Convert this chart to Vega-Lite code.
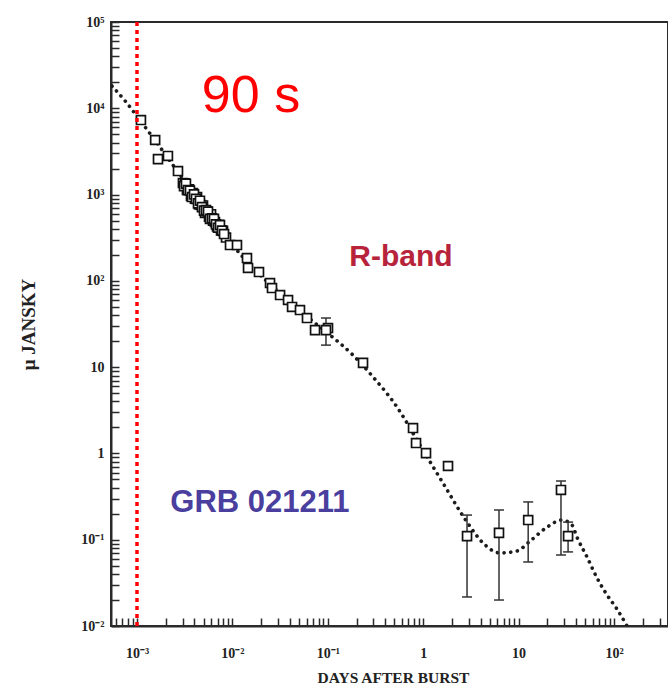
{
  "$schema": "https://vega.github.io/schema/vega-lite/v6.json",
  "width": 557,
  "height": 604,
  "autosize": {"type": "none"},
  "padding": {"left": 111, "top": 22, "right": 0, "bottom": 60},
  "background": "white",
  "config": {"view": {"stroke": "#2a2a2a", "strokeWidth": 2}, "axis": {"grid": false}},
  "datasets": {
    "model": [
      {"t": 0.000547, "f": 18110}, {"t": 0.000767, "f": 11820}, {"t": 0.00107, "f": 7310},
      {"t": 0.00174, "f": 3556}, {"t": 0.00283, "f": 1686}, {"t": 0.00516, "f": 680},
      {"t": 0.00944, "f": 282}, {"t": 0.01726, "f": 133.6}, {"t": 0.0316, "f": 72.3},
      {"t": 0.0577, "f": 40.2}, {"t": 0.1054, "f": 23.6}, {"t": 0.1836, "f": 13.8},
      {"t": 0.298, "f": 7.69}, {"t": 0.531, "f": 3.45}, {"t": 0.925, "f": 1.25},
      {"t": 1.61, "f": 0.454}, {"t": 2.88, "f": 0.16}, {"t": 4.24, "f": 0.0916},
      {"t": 6.38, "f": 0.0702}, {"t": 9.62, "f": 0.074}, {"t": 13.2, "f": 0.0966},
      {"t": 19.9, "f": 0.14}, {"t": 28.5, "f": 0.169}, {"t": 36.3, "f": 0.148},
      {"t": 40.9, "f": 0.107}, {"t": 52.1, "f": 0.0631}, {"t": 66.4, "f": 0.036},
      {"t": 84.5, "f": 0.0229}, {"t": 107.5, "f": 0.0157}, {"t": 136.8, "f": 0.01}
    ],
    "obs": [
      {"t": 0.0011, "f": 7310}, {"t": 0.00155, "f": 4290}, {"t": 0.00166, "f": 2580},
      {"t": 0.00211, "f": 2800}, {"t": 0.00269, "f": 1875},
      {"t": 0.00303, "f": 1361}, {"t": 0.00318, "f": 1346}, {"t": 0.00334, "f": 1132},
      {"t": 0.00351, "f": 1151}, {"t": 0.00368, "f": 967}, {"t": 0.00386, "f": 1038},
      {"t": 0.00405, "f": 898}, {"t": 0.00426, "f": 934}, {"t": 0.00447, "f": 767},
      {"t": 0.00469, "f": 757}, {"t": 0.00492, "f": 748}, {"t": 0.00516, "f": 614},
      {"t": 0.00542, "f": 640}, {"t": 0.00569, "f": 553}, {"t": 0.00597, "f": 592},
      {"t": 0.00626, "f": 499}, {"t": 0.00657, "f": 481}, {"t": 0.0069, "f": 427},
      {"t": 0.00724, "f": 445}, {"t": 0.0076, "f": 385}, {"t": 0.00797, "f": 380},
      {"t": 0.00857, "f": 318},
      {"t": 0.00311, "f": 1250}, {"t": 0.00326, "f": 1336}, {"t": 0.00342, "f": 1126},
      {"t": 0.00359, "f": 1114}, {"t": 0.00377, "f": 937}, {"t": 0.00396, "f": 1004},
      {"t": 0.00415, "f": 890}, {"t": 0.00436, "f": 792}, {"t": 0.00457, "f": 849},
      {"t": 0.0048, "f": 714}, {"t": 0.00504, "f": 652}, {"t": 0.00529, "f": 660},
      {"t": 0.00555, "f": 636}, {"t": 0.00582, "f": 522}, {"t": 0.00611, "f": 529},
      {"t": 0.00641, "f": 524}, {"t": 0.00673, "f": 452}, {"t": 0.00707, "f": 413},
      {"t": 0.00741, "f": 443}, {"t": 0.00778, "f": 382}, {"t": 0.00817, "f": 349},
      {"t": 0.00944, "f": 260}, {"t": 0.01117, "f": 260}, {"t": 0.01422, "f": 184},
      {"t": 0.01458, "f": 141}, {"t": 0.019, "f": 126.6}, {"t": 0.0248, "f": 94.4},
      {"t": 0.026, "f": 82.6}, {"t": 0.0316, "f": 68.5}, {"t": 0.0383, "f": 60},
      {"t": 0.0422, "f": 49.8}, {"t": 0.0511, "f": 45.9}, {"t": 0.0605, "f": 37.1},
      {"t": 0.0735, "f": 26.9}, {"t": 0.1005, "f": 28.4},
      {"t": 0.0957, "f": 26.9, "lo": 18, "hi": 37.1},
      {"t": 0.234, "f": 11.2}, {"t": 0.782, "f": 1.97}, {"t": 0.841, "f": 1.32},
      {"t": 1.07, "f": 1.01}, {"t": 1.82, "f": 0.715},
      {"t": 2.88, "f": 0.11, "lo": 0.0217, "hi": 0.193},
      {"t": 6.23, "f": 0.12, "lo": 0.02, "hi": 0.221},
      {"t": 12.6, "f": 0.169, "lo": 0.0552, "hi": 0.274},
      {"t": 27.8, "f": 0.377, "lo": 0.0665, "hi": 0.479},
      {"t": 33.0, "f": 0.11, "lo": 0.0722, "hi": 0.16}
    ]
  },
  "layer": [
    {
      "data": {"name": "model"},
      "mark": {"type": "line", "interpolate": "monotone", "color": "#1c1c1c", "strokeWidth": 3.6, "strokeDash": [0.1, 6.6], "strokeCap": "round", "clip": true},
      "encoding": {
        "x": {
          "field": "t", "type": "quantitative",
          "scale": {"type": "log", "domain": [0.000534, 368], "nice": false},
          "axis": {
            "orient": "bottom",
            "values": [0.0006, 0.0007, 0.0008, 0.0009, 0.001, 0.002, 0.003, 0.004, 0.005, 0.006, 0.007, 0.008, 0.009,
                       0.01, 0.02, 0.03, 0.04, 0.05, 0.06, 0.07, 0.08, 0.09, 0.1, 0.2, 0.3, 0.4, 0.5, 0.6, 0.7, 0.8, 0.9,
                       1, 2, 3, 4, 5, 6, 7, 8, 9, 10, 20, 30, 40, 50, 60, 70, 80, 90, 100, 200, 300],
            "ticks": true, "tickSize": -8, "tickWidth": 1.5, "tickColor": "#2a2a2a",
            "domain": true, "domainColor": "#2a2a2a", "domainWidth": 2,
            "labelExpr": "abs(log(datum.value)/LN10 - round(log(datum.value)/LN10)) < 0.001 ? ['10⁻³','10⁻²','10⁻¹','1','10','10²'][round(log(datum.value)/LN10)+3] : ''",
            "labelFont": "Liberation Serif", "labelFontWeight": "bold", "labelFontSize": 14, "labelColor": "#222",
            "labelBaseline": "alphabetic", "labelPadding": 39, "labelFlush": false, "labelOverlap": false,
            "title": "DAYS AFTER BURST", "titleFont": "Liberation Serif", "titleFontWeight": "bold",
            "titleFontSize": 15.5, "titleColor": "#222", "titleX": 282, "titleY": 51,
            "titleBaseline": "middle", "titleAlign": "center"
          }
        },
        "y": {
          "field": "f", "type": "quantitative",
          "scale": {"type": "log", "domain": [0.01, 100000], "nice": false},
          "axis": {
            "orient": "left",
            "values": [0.01, 0.02, 0.03, 0.04, 0.05, 0.06, 0.07, 0.08, 0.09, 0.1, 0.2, 0.3, 0.4, 0.5, 0.6, 0.7, 0.8, 0.9,
                       1, 2, 3, 4, 5, 6, 7, 8, 9, 10, 20, 30, 40, 50, 60, 70, 80, 90, 100, 200, 300, 400, 500, 600, 700, 800, 900,
                       1000, 2000, 3000, 4000, 5000, 6000, 7000, 8000, 9000, 10000, 20000, 30000, 40000, 50000, 60000, 70000, 80000, 90000, 100000],
            "ticks": true, "tickSize": -8, "tickWidth": 1.5, "tickColor": "#2a2a2a",
            "domain": true, "domainColor": "#2a2a2a", "domainWidth": 2,
            "labelExpr": "abs(log(datum.value)/LN10 - round(log(datum.value)/LN10)) < 0.001 ? ['10⁻²','10⁻¹','1\u2002','10\u2002','10²','10³','10⁴','10⁵'][round(log(datum.value)/LN10)+2] : ''",
            "labelFont": "Liberation Serif", "labelFontWeight": "bold", "labelFontSize": 14, "labelColor": "#222",
            "labelAlign": "right", "labelBaseline": "middle", "labelPadding": 15, "labelFlush": false, "labelOverlap": false,
            "title": "μ JANSKY", "titleFont": "Liberation Serif", "titleFontWeight": "bold",
            "titleFontSize": 19, "titleColor": "#222", "titleAngle": 270, "titleX": -83, "titleY": 302,
            "titleBaseline": "middle", "titleAlign": "center"
          }
        }
      }
    },
    {
      "data": {"name": "obs"},
      "transform": [{"filter": "isValid(datum.lo)"}],
      "mark": {"type": "rule", "color": "#333", "strokeWidth": 1.5},
      "encoding": {
        "x": {"field": "t", "type": "quantitative"},
        "y": {"field": "lo", "type": "quantitative"},
        "y2": {"field": "hi"}
      }
    },
    {
      "data": {"name": "obs"},
      "transform": [{"filter": "isValid(datum.lo)"}, {"fold": ["lo", "hi"], "as": ["end", "v"]}],
      "mark": {"type": "tick", "orient": "horizontal", "size": 10, "thickness": 1.5, "color": "#333", "opacity": 1},
      "encoding": {
        "x": {"field": "t", "type": "quantitative"},
        "y": {"field": "v", "type": "quantitative"}
      }
    },
    {
      "data": {"name": "obs"},
      "mark": {"type": "point", "shape": "square", "size": 80, "fill": "white", "stroke": "#111", "strokeWidth": 1.7, "opacity": 1},
      "encoding": {
        "x": {"field": "t", "type": "quantitative"},
        "y": {"field": "f", "type": "quantitative"}
      }
    },
    {
      "data": {"values": [{"t": 0.001}]},
      "mark": {"type": "rule", "color": "#ff0000", "strokeWidth": 3.5, "strokeDash": [4, 4]},
      "encoding": {
        "x": {"field": "t", "type": "quantitative"}
      }
    },
    {
      "data": {"values": [{"t": 0.01567, "f": 9060, "label": "90 s"}]},
      "mark": {"type": "text", "font": "Liberation Sans", "fontSize": 52, "color": "#ff0000", "align": "center", "baseline": "alphabetic"},
      "encoding": {
        "x": {"field": "t", "type": "quantitative"},
        "y": {"field": "f", "type": "quantitative"},
        "text": {"field": "label"}
      }
    },
    {
      "data": {"values": [{"t": 0.585, "f": 148.6, "label": "R-band"}]},
      "mark": {"type": "text", "font": "Liberation Sans", "fontWeight": "bold", "fontSize": 30, "color": "#b8233c", "align": "center", "baseline": "alphabetic"},
      "encoding": {
        "x": {"field": "t", "type": "quantitative"},
        "y": {"field": "f", "type": "quantitative"},
        "text": {"field": "label"}
      }
    },
    {
      "data": {"values": [{"t": 0.01945, "f": 0.2094, "label": "GRB 021211"}]},
      "mark": {"type": "text", "font": "Liberation Sans", "fontWeight": "bold", "fontSize": 31, "color": "#4a3f9e", "align": "center", "baseline": "alphabetic"},
      "encoding": {
        "x": {"field": "t", "type": "quantitative"},
        "y": {"field": "f", "type": "quantitative"},
        "text": {"field": "label"}
      }
    }
  ]
}
